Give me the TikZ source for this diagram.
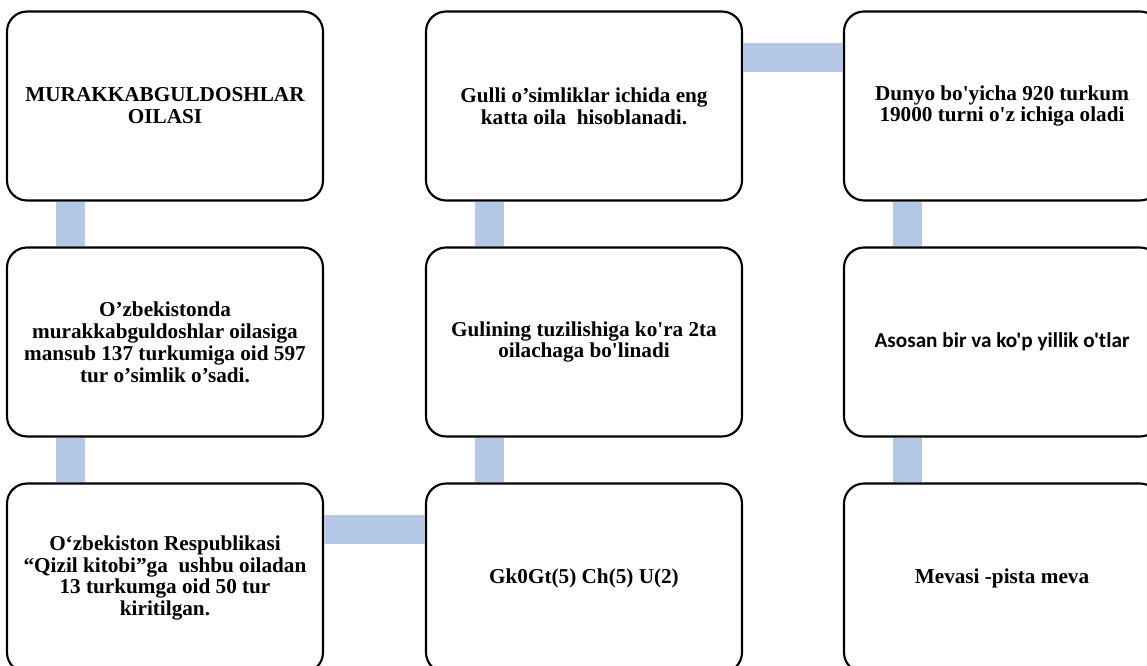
\documentclass[tikz,border=0pt]{standalone}
\usepackage{fontspec}
\setmainfont{Liberation Serif}[Ligatures=TeXOff]
\newfontfamily\calibri{Carlito}[Ligatures=TeXOff]
\usepackage{tikz}
\usetikzlibrary{shapes}
\definecolor{linkblue}{RGB}{180,199,231}
\tikzset{
	box/.style    = {draw, line width = 1.6pt, rectangle, rounded corners = 15pt,
		minimum width = 237pt, minimum height = 141.75pt, align = center,
		font = \fontsize{15.9pt}{16.4pt}\selectfont\bfseries},
	link/.style   = {draw = linkblue, line width = 21.75pt}
}
\newcommand{\vlink}[2]{\draw[link] ([xshift=48.4pt]#1.south west) -- ([xshift=48.4pt]#2.north west);}
\newcommand{\hlink}[2]{\draw[link] ([yshift=-35pt]#1.north east) -- ([yshift=-35pt]#2.north west);}

\begin{document}
\begin{tikzpicture}[x = 0.75pt, y = -0.75pt]
	\useasboundingbox (0,0) rectangle (1147,666);
	\draw
	% Drawing the blocks of first column
	node at (165,106)[box] (b1) {MURAKKABGULDOSHLAR\\OILASI}
	node at (165,342)[box] (b2) {O’zbekistonda\\murakkabguldoshlar oilasiga\\mansub 137 turkumiga oid 597\\tur o’simlik o’sadi.}
	node at (165,578)[box] (b3) {O‘zbekiston Respublikasi\\“Qizil kitobi”ga~ ushbu oiladan\\13 turkumga oid 50 tur\\kiritilgan.}
	% second column
	node at (584,578)[box] (b4) {Gk0Gt(5) Ch(5) U(2)}
	node at (584,342)[box] (b5) {Gulining tuzilishiga ko'ra 2ta\\oilachaga bo'linadi}
	node at (584,106)[box] (b6) {Gulli o’simliklar ichida eng\\katta oila~ hisoblanadi.}
	% third column
	node at (1002,106)[box] (b7) {Dunyo bo'yicha 920 turkum\\19000 turni o'z ichiga oladi}
	node at (1002,342)[box] (b8) {\calibri\bfseries Asosan bir va ko'p yillik o'tlar}
	node at (1002,578)[box] (b9) {Mevasi -pista meva};
	
	\vlink{b1}{b2}
	\vlink{b2}{b3}
	\hlink{b3}{b4}
	\vlink{b5}{b4}
	\vlink{b6}{b5}
	\hlink{b6}{b7}
	\vlink{b7}{b8}
	\vlink{b8}{b9}
	
\end{tikzpicture}
\end{document}
